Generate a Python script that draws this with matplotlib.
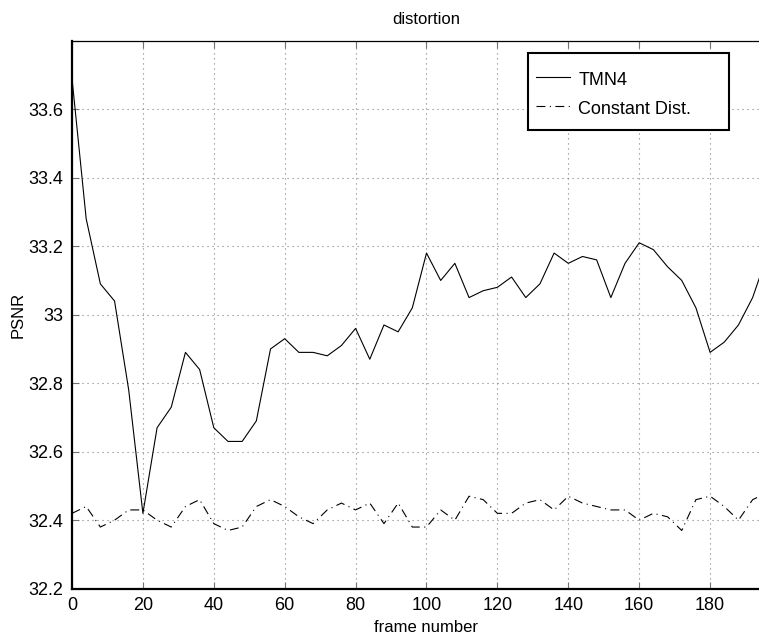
import matplotlib
matplotlib.use("Agg")
import matplotlib.pyplot as plt
from matplotlib.patches import Rectangle

frames = [0, 4, 8, 12, 16, 20, 24, 28, 32, 36, 40, 44, 48, 52, 56, 60, 64, 68, 72, 76,
          80, 84, 88, 92, 96, 100, 104, 108, 112, 116, 120, 124, 128, 132, 136, 140,
          144, 148, 152, 156, 160, 164, 168, 172, 176, 180, 184, 188, 192, 196]

tmn4 = [33.69, 33.28, 33.09, 33.04, 32.78, 32.42, 32.67, 32.73, 32.89, 32.84,
        32.67, 32.63, 32.63, 32.69, 32.90, 32.93, 32.89, 32.89, 32.88, 32.91,
        32.96, 32.87, 32.97, 32.95, 33.02, 33.18, 33.10, 33.15, 33.05, 33.07,
        33.08, 33.11, 33.05, 33.09, 33.18, 33.15, 33.17, 33.16, 33.05, 33.15,
        33.21, 33.19, 33.14, 33.10, 33.02, 32.89, 32.92, 32.97, 33.05, 33.17]

const_dist = [32.42, 32.44, 32.38, 32.40, 32.43, 32.43, 32.40, 32.38, 32.44, 32.46,
              32.39, 32.37, 32.38, 32.44, 32.46, 32.44, 32.41, 32.39, 32.43, 32.45,
              32.43, 32.45, 32.39, 32.45, 32.38, 32.38, 32.43, 32.40, 32.47, 32.46,
              32.42, 32.42, 32.45, 32.46, 32.43, 32.47, 32.45, 32.44, 32.43, 32.43,
              32.40, 32.42, 32.41, 32.37, 32.46, 32.47, 32.44, 32.40, 32.46, 32.48]

xticks = [0, 20, 40, 60, 80, 100, 120, 140, 160, 180]
yticks = [32.2, 32.4, 32.6, 32.8, 33.0, 33.2, 33.4, 33.6, 33.8]
yticklabels = ["32.2", "32.4", "32.6", "32.8", "33", "33.2", "33.4", "33.6", ""]

plt.rcParams['font.family'] = ['Liberation Sans', 'DejaVu Sans']

fig = plt.figure(figsize=(7.59, 6.35), dpi=100)
ax_left, ax_top, ax_w, ax_h = 72, 40.7, 709, 548
ax = fig.add_axes([ax_left / 759, 1 - (ax_top + ax_h) / 635, ax_w / 759, ax_h / 635])

ax.plot(frames, tmn4, color='black', lw=0.8, label='TMN4')
ax.plot(frames, const_dist, color='black', lw=0.8, linestyle=(0, (8, 4, 1, 4)),
        label='Constant Dist.')

ax.set_xlim(0, 200)
ax.set_ylim(32.2, 33.8)
ax.set_xticks(xticks)
ax.set_yticks(yticks)
ax.set_yticklabels(yticklabels)
ax.tick_params(direction='in', length=5, width=0.8, color='0.45', labelsize=13,
               top=True, right=False, pad=6)
ax.grid(True, color='0.5', linestyle=(0, (1, 3.5)), linewidth=0.8)

for s in ['left', 'bottom']:
    ax.spines[s].set_linewidth(1.6)
ax.spines['top'].set_linewidth(0.9)
ax.spines['right'].set_visible(False)

ax.set_title('distortion', fontsize=12, pad=12)
ax.set_xlabel('frame number', fontsize=12, labelpad=4.5)
ax.set_ylabel('PSNR', fontsize=12, labelpad=2)


def ax_x(px):
    return (px - ax_left) / ax_w


def ax_y(py):
    return (ax_top + ax_h - py) / ax_h


# legend box
bx0, by0, bx1, by1 = 528.3, 53.3, 728.7, 130.0
box = Rectangle((ax_x(bx0), ax_y(by1)), ax_x(bx1) - ax_x(bx0), ax_y(by0) - ax_y(by1),
                transform=ax.transAxes, facecolor='white', edgecolor='black',
                linewidth=1.5, zorder=5)
ax.add_patch(box)

leg = ax.legend(loc='upper left', bbox_to_anchor=(ax_x(536), ax_y(69.5)),
                frameon=False, borderaxespad=0, borderpad=0, fontsize=13,
                handlelength=1.9, handletextpad=0.45, handleheight=1.2,
                labelspacing=0.55)
leg.set_zorder(6)

fig.savefig('out.png', dpi=100)
